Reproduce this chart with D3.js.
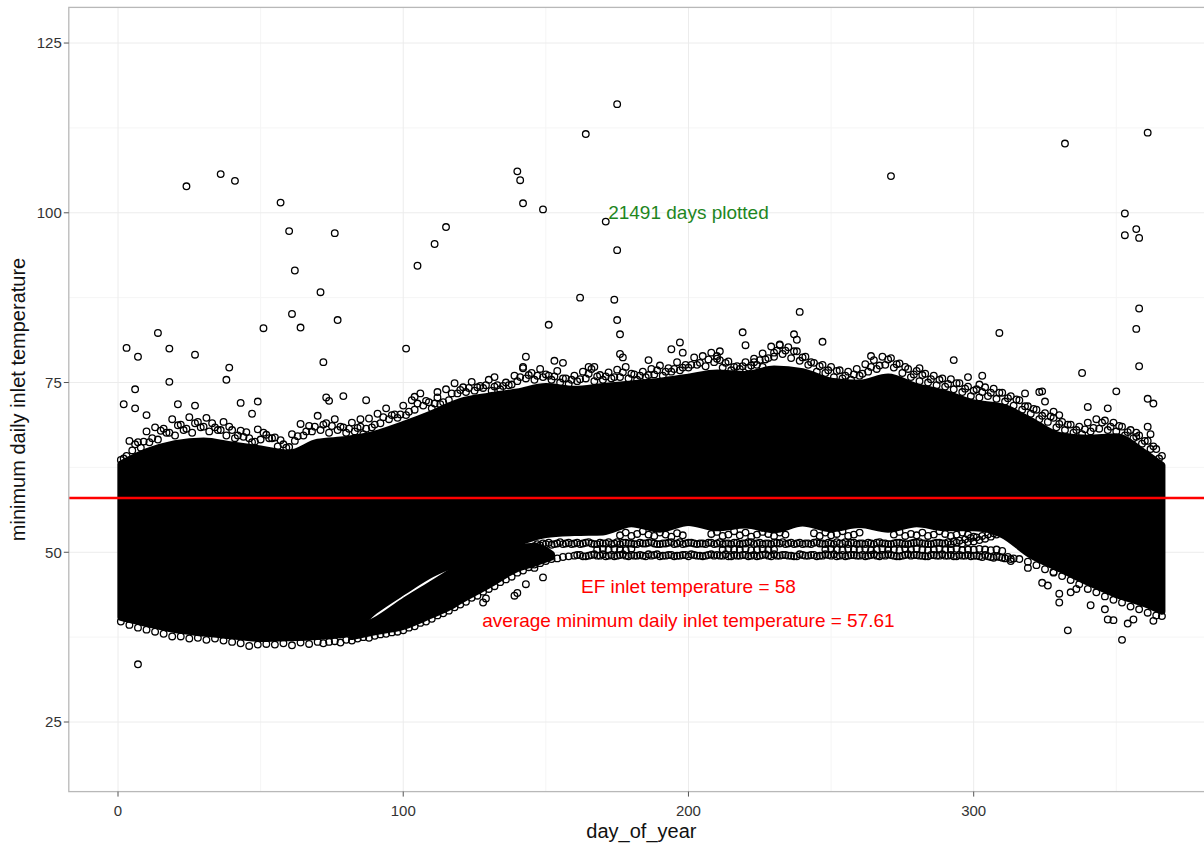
<!DOCTYPE html>
<html>
<head>
<meta charset="utf-8">
<script src="https://cdn.jsdelivr.net/npm/d3@7"></script>
<style>
  body { margin: 0; background: #fff; }
  text { font-family: "Liberation Sans", Arial, sans-serif; }
</style>
</head>
<body>
<div id="chart"></div>
<script>
// day-of-year samples for the solid (fully overplotted) part of the cloud
const coreDays = [1,10,20,30,40,50,60,70,80,90,100,110,120,130,140,150,160,170,180,190,200,210,220,230,240,250,260,270,280,290,300,310,320,330,340,350,360,366];
const coreHigh = [63.0,64.8,66.0,66.4,65.8,65.2,64.6,66.2,66.6,67.4,68.8,70.4,72.2,73.0,73.6,74.4,74.0,74.4,74.8,75.2,75.8,76.4,76.2,77.0,76.6,75.2,74.9,75.8,74.4,73.4,72.0,71.4,69.4,67.2,66.8,67.0,64.6,62.8];
const coreLow = [40.4,39.5,38.6,38.1,37.7,37.3,37.4,37.6,38.0,41.4,44.2,46.8,48.6,50.0,51.4,52.6,52.9,53.0,54.2,53.4,54.4,53.6,54.0,53.3,54.3,53.5,54.1,53.4,54.2,53.6,53.6,52.6,49.6,47.6,45.6,43.8,42.4,41.3];

// rising streak band in spring, under the main cloud
const wedgeDays = [82,90,100,110,116,120,130,140,146,152];
const wedgeLow = [37.6,38.3,39.1,40.8,41.9,42.9,45.2,47.6,48.4,49.3];
const wedgeHigh = [38.6,39.9,42.7,45.3,46.9,48.0,49.4,50.6,50.9,49.7];

// individual traces (start day, step in days)
const topEdge = [63.6,66.4,66.2,67.8,68.4,68.2,69.6,68.8,69.9,69.2,
  69.8,68.4,69.2,68.0,67.9,66.8,68.1,67.3,66.9,65.9,
  67.4,68.9,68.6,70.1,69.0,69.6,68.4,69.1,68.5,69.7,
  70.4,71.2,70.3,71.6,72.4,73.4,72.1,72.8,74.0,74.9,
  74.3,75.1,74.5,75.4,74.6,75.0,76.0,77.1,76.4,77.0,
  76.0,76.7,75.6,76.0,76.6,77.0,76.1,76.5,76.9,77.3,
  76.2,76.6,77.0,77.5,77.1,78.0,77.6,78.7,78.9,79.4,
  78.3,78.1,77.4,78.0,78.5,79.3,80.3,80.6,80.2,79.6,
  78.8,77.9,77.6,77.3,76.8,76.6,77.0,77.7,78.3,78.8,
  78.6,77.8,77.0,76.7,76.3,76.0,75.6,75.5,74.9,74.4,
  74.0,74.3,74.1,73.5,73.0,72.4,71.5,71.0,70.5,69.8,
  69.2,68.8,68.5,69.1,69.6,69.4,69.1,68.5,68.0,67.2,
  66.4,65.2];
const topEdge2 = [63.8,65.0,65.4,66.2,66.6,67.6,67.2,68.0,67.6,68.4,
  67.8,68.0,67.2,66.8,67.0,66.2,66.6,66.8,65.6,65.4,
  66.4,67.2,67.8,68.0,67.6,68.0,67.6,67.8,67.4,68.4,
  69.0,69.6,69.8,70.2,71.0,71.6,71.2,71.8,72.4,73.4,
  73.6,73.8,74.2,73.8,74.0,74.6,75.2,75.6,75.4,75.8,
  75.4,75.0,74.8,75.2,75.6,75.2,75.4,75.6,75.8,75.6,
  75.4,75.8,76.2,76.0,76.6,76.8,77.2,77.6,77.4,78.0,
  77.2,76.8,77.0,77.2,77.6,78.4,78.8,79.2,78.6,78.2,
  77.6,76.6,76.4,75.8,75.6,75.4,76.0,76.6,77.0,77.6,
  77.2,76.4,75.8,75.2,75.0,74.6,74.4,74.0,73.6,73.0,
  72.8,73.0,72.6,72.2,71.6,71.0,70.4,69.6,69.2,68.4,
  68.0,67.6,67.4,67.8,68.2,68.0,67.8,67.2,66.8,66.0,
  65.2,63.8];
const topEdge3 = [64.2,65.9,66.3,66.8,67.9,67.6,68.7,68.2,69.0,68.5,
  69.0,68.0,68.5,67.2,67.7,66.3,67.6,66.8,66.5,65.5,
  67.1,67.8,68.5,68.8,68.6,68.5,68.2,68.3,68.2,68.8,
  69.9,70.2,70.3,70.7,71.9,72.3,71.9,72.1,73.4,73.9,
  74.2,74.3,74.6,74.4,74.5,74.7,75.8,76.1,76.0,76.2,
  75.9,75.6,75.4,75.5,76.3,75.9,75.9,75.8,76.5,76.3,
  76.0,76.1,76.8,76.6,77.0,77.2,77.6,77.9,78.4,78.5,
  77.9,77.3,77.4,77.5,78.3,78.6,79.7,79.7,79.6,78.7,
  78.0,77.4,76.8,76.7,76.0,76.2,76.3,77.3,77.5,78.4,
  77.7,77.3,76.2,76.1,75.5,75.4,74.8,74.9,74.1,73.8,
  73.6,73.5,73.5,72.7,72.5,71.5,71.1,70.1,70.0,68.9,
  68.8,68.0,68.1,68.3,69.1,68.5,68.6,67.7,67.6,66.4,
  65.6,64.2];
const bottomEdgeLeft = [39.8,39.3,38.9,38.6,38.3,38.0,37.6,37.6,37.3,37.4,37.1,37.3,37.0,36.8,36.6,36.2,36.4,36.5,36.4,36.6,36.3,36.7,36.5,36.8];
const bottomEdgeRight = [49.0,48.6,48.1,47.5,47.1,46.5,45.9,45.3,44.6,44.1,43.5,43.0,42.6,42.0,41.6,41.1,40.7];
const lowBand = [36.6,36.8,36.9,36.7,37.1,37.0,37.3,37.5,37.4,37.7,
  37.9,38.0,38.2,38.3,38.5,38.9,39.1,39.6,39.8,40.2,
  40.7,41.0,41.4,41.9,42.3,42.7,43.3,43.6,44.2,44.6,
  45.0,45.6,46.0,46.4,47.0,47.3,47.8,48.2,48.4,48.7,
  49.0,49.1,49.3,49.4];
const flat50 = [49.5,49.6,49.4,49.6,49.5,49.7,49.5,49.4,49.6,49.5,
  49.6,49.5,49.5,49.7,49.6,49.4,49.5,49.6,49.5,49.6,
  49.4,49.6,49.5,49.5,49.7,49.6,49.5,49.4,49.6,49.5,
  49.6,49.5,49.4,49.6,49.5,49.7,49.5,49.6,49.5,49.4,
  49.6,49.5,49.6,49.5,49.7,49.5,49.4,49.6,49.5,49.6,
  49.5,49.4,49.6,49.5,49.6,49.7,49.5,49.4,49.6,49.5,
  49.6,49.5,49.4,49.6,49.5,49.5,49.6,49.4,49.5,49.6,
  49.5,49.4,49.6,49.3,49.4,49.2,49.3,49.1];
const flat50c = [49.6,49.4,49.5,49.7,49.5,49.4,49.6,49.5,49.7,49.4,
  49.5,49.6,49.4,49.5,49.7,49.5,49.6,49.4,49.5,49.6,
  49.7,49.5,49.4,49.6,49.5,49.5,49.7,49.4,49.5,49.6,
  49.4,49.6,49.5,49.7,49.4,49.5,49.6,49.5,49.4,49.7,
  49.5,49.6,49.4,49.5,49.6,49.7,49.5,49.4,49.6,49.5,
  49.6,49.5,49.7,49.4,49.5,49.6,49.4,49.5,49.7,49.6,
  49.5,49.4,49.6,49.5,49.7,49.5,49.4,49.6,49.5,49.4,
  49.5,49.3,49.4,49.2,49.3,49.1,49.0];
const flat50b = [null,null,null,null,
  50.4,50.5,50.4,50.5,50.4,50.3,50.5,
  null,null,null,null,null,null,null,null,null,null,null,null,null,null,null,
  50.4,50.5,50.4,50.4,50.5,50.3,50.4,50.5,50.4,50.4,
  null,null,null,null,null,null,null,null,
  50.4,50.5,50.4,50.3,50.5,50.4,50.4,50.5,50.3,50.4,50.5,50.4,50.4,50.3,50.5,50.4,
  50.5,50.4,50.3,50.4,50.5,50.4,50.4,50.5,50.3,50.4,50.4,50.5,50.4,50.3,50.4,50.2];
const flat51 = [50.9,51.0,51.2,51.1,51.3,51.2,51.4,51.3,51.2,51.4,
  51.3,51.2,51.3,51.5,51.3,51.2,51.4,51.3,51.2,51.3,
  51.4,51.3,51.2,51.3,51.5,51.3,51.2,51.4,51.3,51.3,
  51.2,51.4,51.3,51.2,51.3,51.4,51.2,51.3,51.5,51.3,
  51.2,51.3,51.4,51.3,51.2,51.4,51.3,51.2,51.3,51.4,
  51.3,51.2,51.3,51.5,51.3,51.2,51.4,51.3,51.2,51.3,
  51.4,51.3,51.2,51.3,51.4,51.2,51.3,51.4,51.3,51.2,
  51.3,51.4,51.3,51.2,51.4,51.3,51.5,51.6,51.8,52.0,
  52.3,52.6];
const flat51b = [51.2,51.3,51.4,51.2,51.5,51.3,51.2,51.4,51.3,51.5,
  51.2,51.4,51.3,51.2,51.5,51.4,51.3,51.2,51.4,51.3,
  51.5,51.2,51.3,51.4,51.2,51.5,51.3,51.4,51.2,51.3,
  51.4,51.2,51.5,51.3,51.2,51.4,51.3,51.5,51.2,51.4,
  51.3,51.2,51.4,51.5,51.3,51.2,51.4,51.3,51.2,51.5,
  51.3,51.4,51.2,51.3,51.5,51.4,51.2,51.3,51.4,51.2,
  51.5,51.3,51.2,51.4,51.3,51.2,51.4,51.5,51.3,51.2,
  51.4,51.3,51.5,51.6,51.7,51.9,52.1,52.2,52.4,52.6,
  52.8];
const flat53 = [null,null,null,null,null,null,null,null,null,null,null,null,null,
  52.5,52.9,52.4,52.7,53.1,52.6,52.4,52.9,52.6,52.3,52.8,52.5,
  null,null,null,null,
  52.7,53.0,52.4,52.6,53.1,52.5,52.9,52.3,52.6,53.0,52.7,52.4,52.9,52.6,
  null,null,null,null,
  52.8,52.4,52.9,52.5,52.7,53.1,52.4,52.6,52.9,
  null,null,null,null,null,
  52.6,53.0,52.4,52.7,52.5,52.9,52.4,52.6,53.1,52.7,52.4,52.6,52.9,52.6,52.3];

// [day, temperature] of scattered points
const farOutliers = [[3,80.1],[7,78.8],[14,82.3],[18,80.0],[18,75.1],[24,103.9],[27,79.1],[36,105.7],[38,75.4],[39,77.2],[41,104.7],[51,83.0],[57,101.5],[60,97.3],[61,85.1],[62,91.5],[64,83.1],[71,88.3],[72,78.0],[76,97.0],[77,84.2],[101,80.0],[105,92.2],[111,95.4],[115,97.9],[140,106.1],[141,104.8],[142,101.4],[149,100.5],[151,83.5],[162,87.5],[164,111.6],[175,116.0],[171,98.7],[175,94.5],[174,87.2],[175,84.2],[176,82.1],[219,82.4],[220,80.5],[239,85.4],[247,81.0],[271,105.4],[309,82.3],[332,110.2],[338,76.4],[353,99.9],[353,96.7],[357,97.6],[358,96.3],[358,85.9],[357,82.9],[358,77.4],[361,111.8],[7,33.5]];
const edgeOutliers = [[2,71.8],[6,74.0],[6,71.2],[10,70.2],[21,71.8],[27,71.6],[43,72.0],[49,72.2],[47,70.4],[73,72.8],[74,72.3],[79,73.0],[85,69.6],[87,72.4],[104,72.9],[112,73.6],[132,75.8],[142,77.3],[143,78.8],[153,78.2],[156,77.9],[165,77.3],[167,77.3],[176,79.2],[177,78.7],[186,78.3],[194,79.9],[197,80.9],[198,79.4],[210,78.9],[211,79.6],[223,78.0],[226,77.3],[230,79.4],[232,80.5],[237,82.1],[238,81.3],[264,78.9],[281,77.1],[293,78.3],[298,75.8],[302,74.7],[303,76.0],[318,73.4],[323,73.6],[324,73.7],[325,72.2],[328,70.7],[330,70.2],[340,71.4],[347,71.2],[350,73.7],[357,67.0],[361,72.6],[361,68.5],[362,67.4],[363,71.9]];
const lowOutliers = [[128,42.6],[129,43.2],[139,43.6],[140,44.0],[143,45.3],[146,47.7],[149,46.3],[313,48.7],[319,47.7],[324,45.5],[326,45.1],[328,47.0],[330,42.6],[330,43.9],[333,38.5],[334,44.1],[336,44.6],[341,42.2],[346,41.6],[347,40.1],[349,40.0],[352,37.1],[354,39.5],[356,40.1],[363,39.9],[366,40.6]];

const xTicks = [0, 100, 200, 300];
const xMinor = [50, 150, 250, 350];
const yTicks = [25, 50, 75, 100, 125];
const yMinor = [37.5, 62.5, 87.5, 112.5];
const efTemp = 58;
const avgTemp = 57.61;
const daysPlotted = 21491;

const width = 1204;
const height = 844;

const svg = d3.select('#chart')
  .append('svg')
  .attr('width', width)
  .attr('height', height);

const x = d3.scaleLinear().domain([-17.25, 384.25]).range([68.8, 1214]);
const y = d3.scaleLinear().domain([14.75, 130.25]).range([791.6, 7.4]);

const [px0, px1] = x.range();
const [py0, py1] = y.range();

svg.append('clipPath').attr('id', 'panel')
  .append('rect')
  .attr('x', px0).attr('y', py1)
  .attr('width', px1 - px0).attr('height', py0 - py1);

// grid
const grid = svg.append('g');
grid.selectAll('.xminor').data(xMinor).enter().append('line')
  .attr('x1', d => x(d)).attr('x2', d => x(d)).attr('y1', py1).attr('y2', py0)
  .style('stroke', '#f5f5f5');
grid.selectAll('.yminor').data(yMinor).enter().append('line')
  .attr('x1', px0).attr('x2', px1).attr('y1', d => y(d)).attr('y2', d => y(d))
  .style('stroke', '#f5f5f5');
grid.selectAll('.xmajor').data(xTicks).enter().append('line')
  .attr('x1', d => x(d)).attr('x2', d => x(d)).attr('y1', py1).attr('y2', py0)
  .style('stroke', '#ececec');
grid.selectAll('.ymajor').data(yTicks).enter().append('line')
  .attr('x1', px0).attr('x2', px1).attr('y1', d => y(d)).attr('y2', d => y(d))
  .style('stroke', '#ececec');

const plot = svg.append('g').attr('clip-path', 'url(#panel)');

// dense parts of the cloud, where the circles overlap into solid black
const area = d3.area()
  .x(d => x(d.day))
  .y0(d => y(d.low))
  .y1(d => y(d.high))
  .curve(d3.curveMonotoneX);

const coreRows = coreDays.map((day, i) => ({ day, low: coreLow[i], high: coreHigh[i] }));
const wedgeRows = wedgeDays.map((day, i) => ({ day, low: wedgeLow[i], high: wedgeHigh[i] }));

[coreRows, wedgeRows].forEach(rows => {
  plot.append('path')
    .datum(rows)
    .attr('d', area)
    .style('fill', '#000')
    .style('stroke', '#000')
    .style('stroke-width', 7)
    .style('stroke-linejoin', 'round');
});

function drawPoints(points) {
  plot.append('g').selectAll('circle')
    .data(points)
    .enter()
    .append('circle')
    .attr('cx', d => x(d.day))
    .attr('cy', d => y(d.temp))
    .attr('r', 3.3)
    .style('fill', 'none')
    .style('stroke', '#000')
    .style('stroke-width', 1.3);
}

function trace(values, start, step) {
  return values
    .map((v, i) => ({ day: start + i * step, temp: v }))
    .filter(d => d.temp !== null);
}

drawPoints(trace(topEdge, 1, 3));
drawPoints(trace(topEdge2, 2, 3));
drawPoints(trace(topEdge3, 3, 3));
drawPoints(trace(bottomEdgeLeft, 1, 3));
drawPoints(trace(bottomEdgeRight, 316, 3));
drawPoints(trace(lowBand, 72, 2));
drawPoints(trace(flat50, 160, 2));
drawPoints(trace(flat50c, 161, 2));
drawPoints(trace(flat50b, 160, 2));
drawPoints(trace(flat51, 146, 2));
drawPoints(trace(flat51b, 147, 2));
drawPoints(trace(flat53, 150, 2));

[farOutliers, edgeOutliers, lowOutliers].forEach(list => {
  drawPoints(list.map(p => ({ day: p[0], temp: p[1] })));
});

// EF reference line
plot.append('line')
  .attr('x1', px0).attr('x2', px1)
  .attr('y1', y(efTemp)).attr('y2', y(efTemp))
  .style('stroke', '#ff0000')
  .style('stroke-width', 2.4);

// panel border
svg.append('rect')
  .attr('x', px0).attr('y', py1)
  .attr('width', px1 - px0).attr('height', py0 - py1)
  .style('fill', 'none')
  .style('stroke', '#b8b8b8')
  .style('stroke-width', 1.3);

// axes
const yAxis = svg.append('g');
yAxis.selectAll('line').data(yTicks).enter().append('line')
  .attr('x1', px0 - 5).attr('x2', px0)
  .attr('y1', d => y(d)).attr('y2', d => y(d))
  .style('stroke', '#555');
yAxis.selectAll('text').data(yTicks).enter().append('text')
  .attr('x', px0 - 7)
  .attr('y', d => y(d))
  .attr('dy', '0.35em')
  .attr('text-anchor', 'end')
  .style('font-size', '15px')
  .style('fill', '#333')
  .text(d => d);

const xAxis = svg.append('g');
xAxis.selectAll('line').data(xTicks).enter().append('line')
  .attr('x1', d => x(d)).attr('x2', d => x(d))
  .attr('y1', py0).attr('y2', py0 + 5)
  .style('stroke', '#555');
xAxis.selectAll('text').data(xTicks).enter().append('text')
  .attr('x', d => x(d))
  .attr('y', py0 + 19)
  .attr('dy', '0.35em')
  .attr('text-anchor', 'middle')
  .style('font-size', '15px')
  .style('fill', '#333')
  .text(d => d);

svg.append('text')
  .attr('x', (px0 + px1) / 2)
  .attr('y', 838)
  .attr('text-anchor', 'middle')
  .style('font-size', '20px')
  .style('fill', '#111')
  .text('day_of_year');

svg.append('text')
  .attr('transform', `translate(25,${(py0 + py1) / 2}) rotate(-90)`)
  .attr('text-anchor', 'middle')
  .style('font-size', '20px')
  .style('fill', '#111')
  .text('minimum daily inlet temperature');

// annotations
svg.append('text')
  .attr('x', x(200)).attr('y', y(100))
  .attr('dy', '0.35em')
  .attr('text-anchor', 'middle')
  .style('font-size', '19px')
  .style('fill', '#1e861e')
  .text(`${daysPlotted} days plotted`);

svg.append('text')
  .attr('x', x(200)).attr('y', y(45))
  .attr('dy', '0.35em')
  .attr('text-anchor', 'middle')
  .style('font-size', '19px')
  .style('fill', '#ff0000')
  .text(`EF inlet temperature = ${efTemp}`);

svg.append('text')
  .attr('x', x(200)).attr('y', y(40))
  .attr('dy', '0.35em')
  .attr('text-anchor', 'middle')
  .style('font-size', '19px')
  .style('fill', '#ff0000')
  .text(`average minimum daily inlet temperature = ${avgTemp}`);
</script>
</body>
</html>
